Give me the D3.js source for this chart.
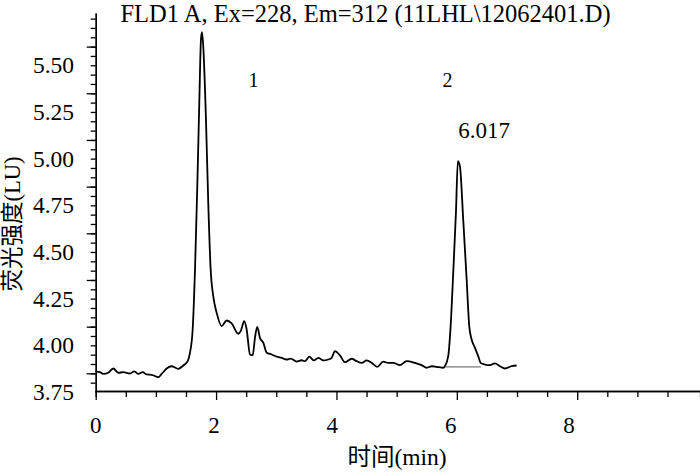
<!DOCTYPE html>
<html>
<head>
<meta charset="utf-8">
<script src="https://cdn.jsdelivr.net/npm/d3@7"></script>
<style>
  body { margin: 0; background: #fff; }
  text { font-family: "Liberation Serif", "Noto Sans CJK SC", serif; fill: #000; }
  .axis path, .axis line { stroke: #000; stroke-width: 1.3; }
</style>
</head>
<body>
<svg id="chart" width="700" height="476"></svg>
<script>
// retention time (min) and fluorescence signal (LU)
var times = [0, 0.071, 0.126, 0.209, 0.292, 0.375, 0.458, 0.570, 0.641, 0.708, 0.781, 0.847, 0.930,
  1.040, 1.096, 1.179, 1.262, 1.372, 1.455, 1.528, 1.566, 1.611, 1.650, 1.688, 1.721, 1.749, 1.766,
  1.787, 1.832, 1.870, 1.910, 1.953, 2.010, 2.093, 2.176, 2.259, 2.369, 2.409, 2.468, 2.508, 2.563,
  2.608, 2.646, 2.684, 2.729, 2.784, 2.841, 2.924, 3.007, 3.090, 3.173, 3.239, 3.339, 3.422, 3.477,
  3.548, 3.626, 3.698, 3.781, 3.864, 3.920, 3.975, 4.058, 4.141, 4.252, 4.336, 4.419, 4.502, 4.585,
  4.678, 4.777, 4.860, 4.944, 5.055, 5.166, 5.304, 5.415, 5.498, 5.581, 5.664, 5.774, 5.802, 5.857,
  5.897, 5.940, 5.985, 6.017, 6.051, 6.106, 6.163, 6.206, 6.246, 6.301, 6.355, 6.395, 6.467, 6.550,
  6.633, 6.716, 6.799, 6.910, 6.993];
var signal = [3.861, 3.856, 3.847, 3.853, 3.876, 3.853, 3.856, 3.849, 3.861, 3.847, 3.856, 3.844, 3.842,
  3.829, 3.847, 3.876, 3.888, 3.874, 3.892, 3.915, 3.960, 4.085, 4.406, 4.852, 5.299, 5.638, 5.677,
  5.602, 5.210, 4.764, 4.406, 4.263, 4.174, 4.103, 4.133, 4.117, 4.062, 4.076, 4.129, 4.085, 3.951,
  3.946, 4.040, 4.099, 4.040, 4.014, 3.960, 3.951, 3.939, 3.933, 3.924, 3.929, 3.913, 3.920, 3.915,
  3.939, 3.919, 3.933, 3.919, 3.924, 3.933, 3.969, 3.946, 3.910, 3.928, 3.915, 3.906, 3.919, 3.906,
  3.885, 3.913, 3.906, 3.906, 3.894, 3.915, 3.906, 3.894, 3.880, 3.888, 3.885, 3.880, 3.888, 3.942,
  4.103, 4.389, 4.710, 4.986, 4.960, 4.674, 4.353, 4.103, 4.031, 3.987, 3.942, 3.906, 3.897, 3.894,
  3.903, 3.888, 3.876, 3.888, 3.892];

// integration baseline under peak 2
var peak2Base = [[5.81, 3.885], [6.40, 3.885]];

var xMajor = [0, 2, 4, 6, 8];
var yLabels = [3.75, 4.00, 4.25, 4.50, 4.75, 5.00, 5.25, 5.50];

var title = 'FLD1 A, Ex=228, Em=312 (11LHL\\12062401.D)';
var xTitle = '时间(min)';
var yTitle = '荧光强度(LU)';

var chartSVG = d3.select('#chart');

var xScale = d3.scaleLinear()
               .domain([0, 10.04])
               .range([95.7, 700]);
// tick labels on the time axis sit slightly left of their ticks in the original
var xLabelScale = d3.scaleLinear()
                    .domain([0, 8])
                    .range([95.7, 569]);
var yScale = d3.scaleLinear()
               .domain([3.75, 5.78])
               .range([392, 13]);

var xMinor = d3.range(0, 10.01, 0.5).filter(v => v % 2 !== 0);
var yMinor = d3.range(3.80, 5.76, 0.05);
// long ticks on the signal axis fall 0.1 above the labels
var yLong = yLabels.map(v => +(v + 0.1).toFixed(2));

var axisY = yScale(3.75) - 1;

chartSVG
  .append('g')
    .classed('axis', true)
    .attr('transform', `translate(0, ${axisY})`)
    .call(d3.axisBottom(xScale).tickValues(xMinor).tickSize(6).tickFormat(''));
chartSVG
  .append('g')
    .classed('axis', true)
    .attr('transform', `translate(0, ${axisY})`)
    .call(d3.axisBottom(xScale).tickValues(xMajor).tickSize(9).tickSizeOuter(0).tickFormat(''));

chartSVG
  .append('g')
    .classed('axis', true)
    .attr('transform', `translate(${xScale(0)}, 0)`)
    .call(d3.axisLeft(yScale).tickValues(yMinor).tickSize(5).tickSizeOuter(0).tickFormat(''));
chartSVG
  .append('g')
    .classed('axis', true)
    .attr('transform', `translate(${xScale(0)}, 0)`)
    .call(d3.axisLeft(yScale).tickValues(yLong).tickSize(9).tickSizeOuter(0).tickFormat(''));

// tick labels
chartSVG
  .selectAll('.x-label')
  .data(xMajor)
  .enter()
  .append('text')
    .classed('x-label', true)
    .attr('x', d => xLabelScale(d))
    .attr('y', 433)
    .attr('text-anchor', 'middle')
    .style('font-size', '23px')
    .text(d => d);

chartSVG
  .selectAll('.y-label')
  .data(yLabels)
  .enter()
  .append('text')
    .classed('y-label', true)
    .attr('x', 74)
    .attr('y', d => yScale(d) + 8)
    .attr('text-anchor', 'end')
    .style('font-size', '23.5px')
    .text(d => d.toFixed(2));

// trace
var line = d3.line()
             .x(d => xScale(d[0]))
             .y(d => yScale(d[1]))
             .curve(d3.curveMonotoneX);

chartSVG
  .append('path')
    .datum(times.map((t, i) => [t, signal[i]]))
    .attr('d', line)
    .attr('fill', 'none')
    .attr('stroke', '#000')
    .attr('stroke-width', 1.8)
    .attr('stroke-linejoin', 'round');

chartSVG
  .append('path')
    .datum(peak2Base)
    .attr('d', d3.line().x(d => xScale(d[0])).y(d => yScale(d[1])))
    .attr('stroke', '#777')
    .attr('stroke-width', 1.3);

// titles and annotations
chartSVG
  .append('text')
    .attr('x', 365.5)
    .attr('y', 21.5)
    .attr('text-anchor', 'middle')
    .style('font-size', '24.5px')
    .text(title);

chartSVG
  .append('text')
    .attr('x', 397)
    .attr('y', 465)
    .attr('text-anchor', 'middle')
    .style('font-size', '23.5px')
    .text(xTitle);

chartSVG
  .append('text')
    .attr('transform', 'translate(20, 224) rotate(-90)')
    .attr('text-anchor', 'middle')
    .style('font-size', '22.5px')
    .text(yTitle);

chartSVG
  .append('text')
    .attr('x', 253.5)
    .attr('y', 87)
    .attr('text-anchor', 'middle')
    .style('font-size', '20px')
    .text('1');
chartSVG
  .append('text')
    .attr('x', 447.5)
    .attr('y', 87)
    .attr('text-anchor', 'middle')
    .style('font-size', '20px')
    .text('2');
chartSVG
  .append('text')
    .attr('x', 484)
    .attr('y', 138)
    .attr('text-anchor', 'middle')
    .style('font-size', '23px')
    .text('6.017');
</script>
</body>
</html>
